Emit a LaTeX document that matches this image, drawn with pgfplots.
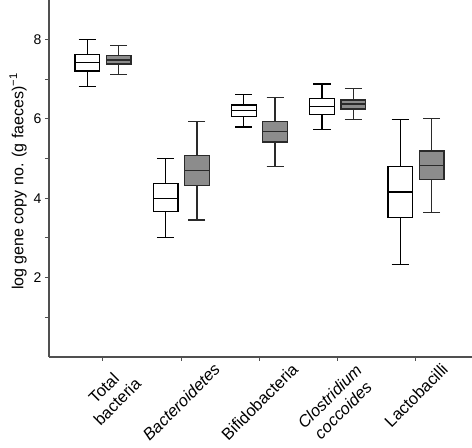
\documentclass[border=0pt]{standalone}
\usepackage{pgfplots}
\pgfplotsset{compat=1.18}
\usepgfplotslibrary{statistics}
\usepackage{fontspec}
\setmainfont{Liberation Sans}
\definecolor{boxgrey}{HTML}{8C8C8C}
\definecolor{axisgrey}{HTML}{505050}
\definecolor{edgegrey}{HTML}{2A2A2A}
\begin{document}
\begin{tikzpicture}
\begin{axis}[
  scale only axis,
  width=423pt, height=357pt,
  xmin=0.31, xmax=5.716,
  ymin=0, ymax=9,
  axis x line=bottom, axis y line=left,
  axis line style={-, color=axisgrey, line width=1.3pt},
  tick style={color=axisgrey, line width=1pt},
  tick align=outside,
  major tick length=4pt, minor tick length=4pt,
  xtick={1,2,3,4,5},
  xticklabels={
    {\hspace*{18pt}\rotatebox{45}{\begin{tabular}{@{}c@{}}Total\\bacteria\end{tabular}}},
    {\rotatebox{45}{\itshape Bacteroidetes}},
    {\rotatebox{45}{Bifidobacteria}},
    {\rotatebox{45}{\begin{tabular}{@{}c@{}}\itshape Clostridium\\\itshape coccoides\end{tabular}}},
    {\rotatebox{45}{Lactobacilli}}},
  xticklabel style={font=\fontsize{16.5}{19}\selectfont, anchor=north, inner sep=1pt},
  ytick={2,4,6,8},
  minor ytick={1,3,5,7},
  yticklabel style={font=\fontsize{14}{16}\selectfont},
  /pgf/number format/assume math mode=true,
  ylabel={log gene copy no. (g faeces)\textsuperscript{−1}},
  ylabel style={font=\fontsize{16}{18}\selectfont, xshift=-3pt},
  boxplot/draw direction=y,
  boxplot/every whisker/.style={line width=1.3pt},
  boxplot/every median/.style={line width=1.3pt},
  boxplot/every box/.style={line width=1.3pt},
]
% Total bacteria
\addplot[draw=black, line width=1.3pt, fill=white, boxplot prepared={draw position=0.8, lower whisker=6.82, lower quartile=7.21, median=7.42, upper quartile=7.62, upper whisker=8.0, box extend=0.315, whisker extend=0.22}] coordinates {};
\addplot[draw=edgegrey, line width=1.3pt, fill=boxgrey, boxplot prepared={draw position=1.2, lower whisker=7.13, lower quartile=7.39, median=7.49, upper quartile=7.60, upper whisker=7.85, box extend=0.315, whisker extend=0.22}] coordinates {};
% Bacteroidetes
\addplot[draw=black, line width=1.3pt, fill=white, boxplot prepared={draw position=1.8, lower whisker=3.01, lower quartile=3.66, median=4.0, upper quartile=4.37, upper whisker=5.0, box extend=0.315, whisker extend=0.22}] coordinates {};
\addplot[draw=edgegrey, line width=1.3pt, fill=boxgrey, boxplot prepared={draw position=2.2, lower whisker=3.45, lower quartile=4.33, median=4.71, upper quartile=5.08, upper whisker=5.94, box extend=0.315, whisker extend=0.22}] coordinates {};
% Bifidobacteria
\addplot[draw=black, line width=1.3pt, fill=white, boxplot prepared={draw position=2.8, lower whisker=5.80, lower quartile=6.06, median=6.21, upper quartile=6.35, upper whisker=6.62, box extend=0.315, whisker extend=0.22}] coordinates {};
\addplot[draw=edgegrey, line width=1.3pt, fill=boxgrey, boxplot prepared={draw position=3.2, lower whisker=4.80, lower quartile=5.42, median=5.68, upper quartile=5.93, upper whisker=6.54, box extend=0.315, whisker extend=0.22}] coordinates {};
% Clostridium coccoides
\addplot[draw=black, line width=1.3pt, fill=white, boxplot prepared={draw position=3.8, lower whisker=5.73, lower quartile=6.11, median=6.32, upper quartile=6.51, upper whisker=6.88, box extend=0.315, whisker extend=0.22}] coordinates {};
\addplot[draw=edgegrey, line width=1.3pt, fill=boxgrey, boxplot prepared={draw position=4.2, lower whisker=5.98, lower quartile=6.25, median=6.38, upper quartile=6.48, upper whisker=6.76, box extend=0.315, whisker extend=0.22}] coordinates {};
% Lactobacilli
\addplot[draw=black, line width=1.3pt, fill=white, boxplot prepared={draw position=4.8, lower whisker=2.33, lower quartile=3.52, median=4.16, upper quartile=4.80, upper whisker=5.98, box extend=0.315, whisker extend=0.22}] coordinates {};
\addplot[draw=edgegrey, line width=1.3pt, fill=boxgrey, boxplot prepared={draw position=5.2, lower whisker=3.65, lower quartile=4.47, median=4.82, upper quartile=5.19, upper whisker=6.01, box extend=0.315, whisker extend=0.22}] coordinates {};
\end{axis}
\pgfresetboundingbox
\useasboundingbox ([xshift=-49pt,yshift=-91pt]current axis.south west) rectangle (current axis.north east);
\end{tikzpicture}
\end{document}
